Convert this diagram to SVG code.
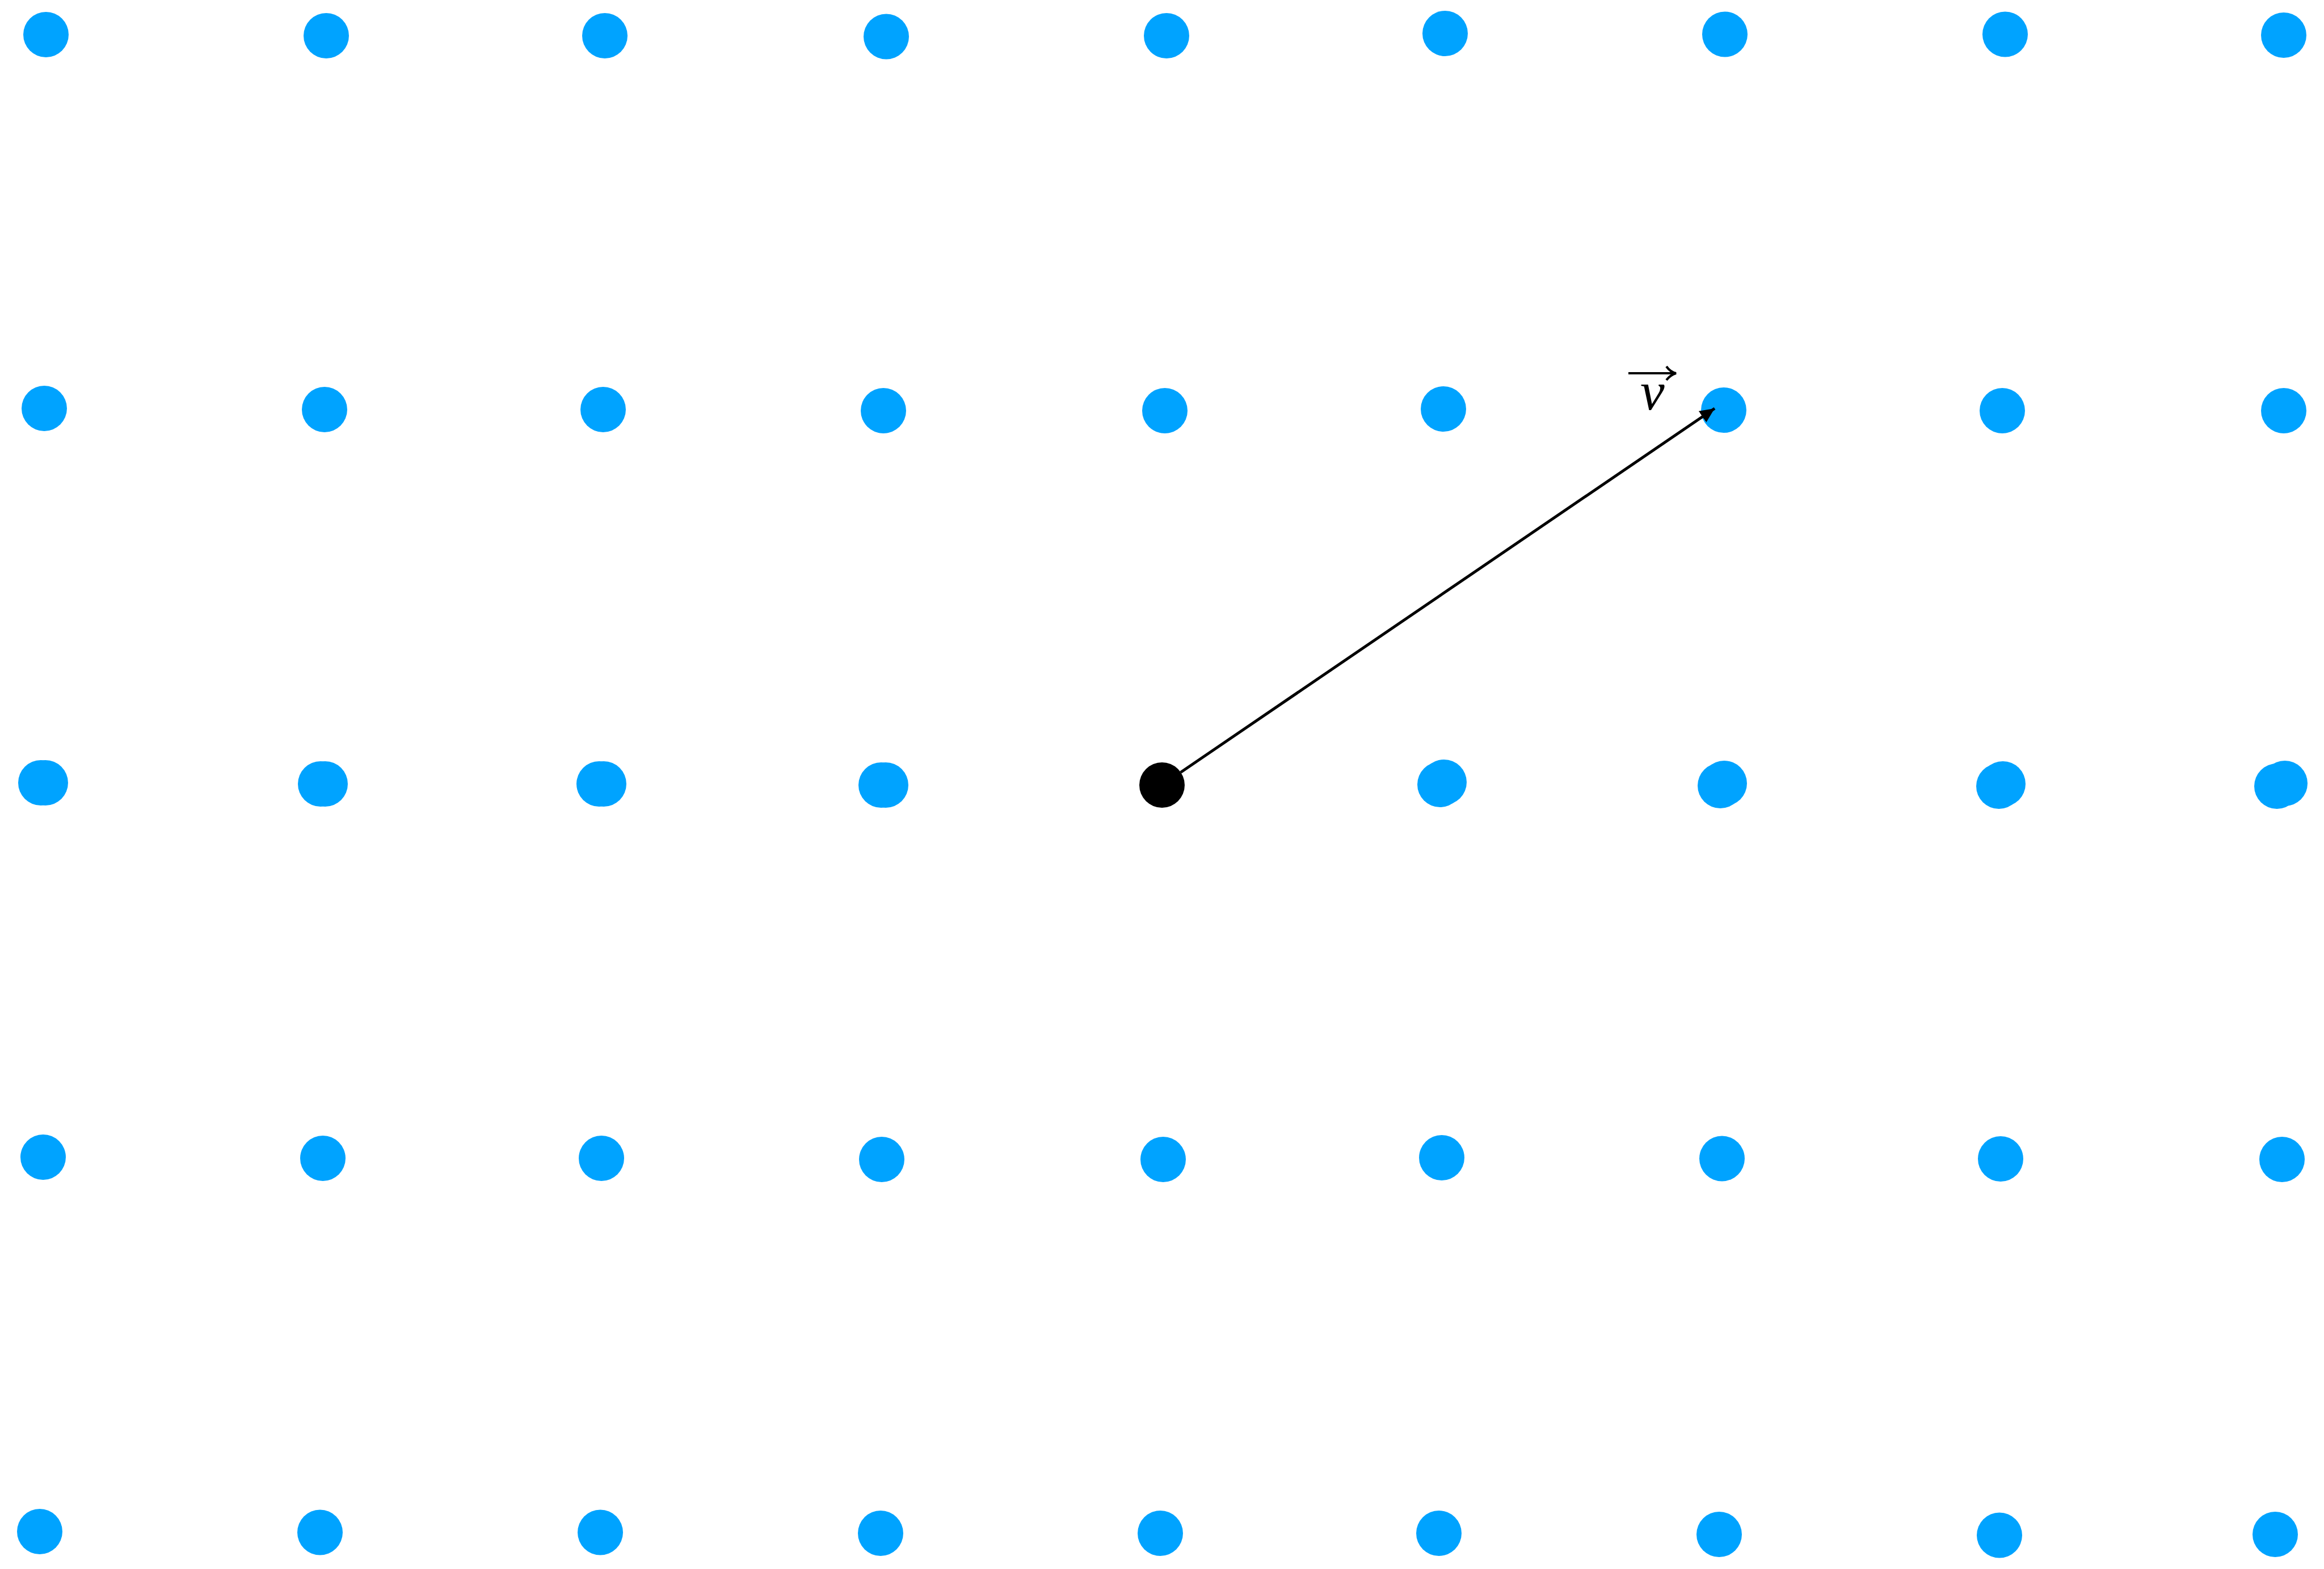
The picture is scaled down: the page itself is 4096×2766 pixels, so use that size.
<svg xmlns="http://www.w3.org/2000/svg" width="4096" height="2766" viewBox="0 0 4096 2766">
<style>
.dot{fill:#00A3FF}
.origin{fill:#000}
.conn{stroke:#000;stroke-width:5;fill:none}
.lbl{font-family:"Liberation Serif","Times New Roman",serif;font-style:italic;font-size:96px;fill:#000}
.acc{stroke:#000;stroke-width:4;fill:none;stroke-linecap:butt}
</style>
<defs>
<marker id="ah" markerUnits="userSpaceOnUse" markerWidth="28" markerHeight="26" refX="26" refY="12" orient="auto">
<path d="M0,0 L26,12 L0,24 Z" fill="#000"/>
</marker>
</defs>
<rect width="4096" height="2766" fill="#fff"/>
<g id="r1">
<circle id="d1-1" class="dot" cx="81" cy="61" r="40"/>
<circle id="d1-2" class="dot" cx="575" cy="63" r="40"/>
<circle id="d1-3" class="dot" cx="1066" cy="63" r="40"/>
<circle id="d1-4" class="dot" cx="1562" cy="64.5" r="40"/>
<circle id="d1-5" class="dot" cx="2056" cy="63" r="40"/>
<circle id="d1-6" class="dot" cx="2547" cy="59" r="40"/>
<circle id="d1-7" class="dot" cx="3040" cy="60.5" r="40"/>
<circle id="d1-8" class="dot" cx="3534" cy="60.5" r="40"/>
<circle id="d1-9" class="dot" cx="4025" cy="62" r="40"/>
</g>
<g id="r2">
<circle id="d2-1" class="dot" cx="78" cy="720" r="40"/>
<circle id="d2-2" class="dot" cx="572" cy="722" r="40"/>
<circle id="d2-3" class="dot" cx="1063" cy="722" r="40"/>
<circle id="d2-4" class="dot" cx="1557" cy="724" r="40"/>
<circle id="d2-5" class="dot" cx="2053" cy="724" r="40"/>
<circle id="d2-6" class="dot" cx="2544" cy="721" r="40"/>
<circle id="d2-7" class="dot" cx="3038" cy="723" r="40"/>
<circle id="d2-8" class="dot" cx="3529" cy="724" r="40"/>
<circle id="d2-9" class="dot" cx="4025" cy="724" r="40"/>
</g>
<g id="r3">
<g id="d3-1"><circle class="dot" cx="72" cy="1380" r="40"/><circle class="dot" cx="80" cy="1380" r="40"/></g>
<g id="d3-2"><circle class="dot" cx="565" cy="1382" r="40"/><circle class="dot" cx="573" cy="1382" r="40"/></g>
<g id="d3-3"><circle class="dot" cx="1056" cy="1382" r="40"/><circle class="dot" cx="1064" cy="1382" r="40"/></g>
<g id="d3-4"><circle class="dot" cx="1553" cy="1384" r="40"/><circle class="dot" cx="1561" cy="1384" r="40"/></g>
<g id="d3-6"><circle class="dot" cx="2538" cy="1383" r="40"/><circle class="dot" cx="2545" cy="1379" r="40"/></g>
<g id="d3-7"><circle class="dot" cx="3032" cy="1385" r="40"/><circle class="dot" cx="3039" cy="1381" r="40"/></g>
<g id="d3-8"><circle class="dot" cx="3523" cy="1386" r="40"/><circle class="dot" cx="3530" cy="1382" r="40"/></g>
<g id="d3-9"><circle class="dot" cx="4013" cy="1386" r="40"/><circle class="dot" cx="4027" cy="1381" r="40"/></g>
</g>
<g id="r4">
<circle id="d4-1" class="dot" cx="76" cy="2040" r="40"/>
<circle id="d4-2" class="dot" cx="569" cy="2042" r="40"/>
<circle id="d4-3" class="dot" cx="1060" cy="2042" r="40"/>
<circle id="d4-4" class="dot" cx="1554" cy="2044" r="40"/>
<circle id="d4-5" class="dot" cx="2050" cy="2044" r="40"/>
<circle id="d4-6" class="dot" cx="2541" cy="2041" r="40"/>
<circle id="d4-7" class="dot" cx="3035" cy="2042.5" r="40"/>
<circle id="d4-8" class="dot" cx="3526" cy="2043" r="40"/>
<circle id="d4-9" class="dot" cx="4022" cy="2044" r="40"/>
</g>
<g id="r5">
<circle id="d5-1" class="dot" cx="70" cy="2700" r="40"/>
<circle id="d5-2" class="dot" cx="564" cy="2701.5" r="40"/>
<circle id="d5-3" class="dot" cx="1058" cy="2701.5" r="40"/>
<circle id="d5-4" class="dot" cx="1552" cy="2703" r="40"/>
<circle id="d5-5" class="dot" cx="2045" cy="2703" r="40"/>
<circle id="d5-6" class="dot" cx="2536" cy="2703" r="40"/>
<circle id="d5-7" class="dot" cx="3030" cy="2705" r="40"/>
<circle id="d5-8" class="dot" cx="3524" cy="2706.5" r="40"/>
<circle id="d5-9" class="dot" cx="4010" cy="2705" r="40"/>
</g>
<g id="connectors">
<line class="conn" x1="2081" y1="1361.5" x2="3022" y2="720" marker-end="url(#ah)"/>
</g>
<g id="origin">
<circle class="origin" cx="2048" cy="1384" r="40"/>
</g>
<g id="label">
<line class="acc" x1="2870" y1="658" x2="2952" y2="658"/>
<path class="acc" d="M2937,646 Q2944,656 2954,658 Q2944,661 2937,670"/>
<text class="lbl" x="2891" y="722">v</text>
</g>
</svg>
